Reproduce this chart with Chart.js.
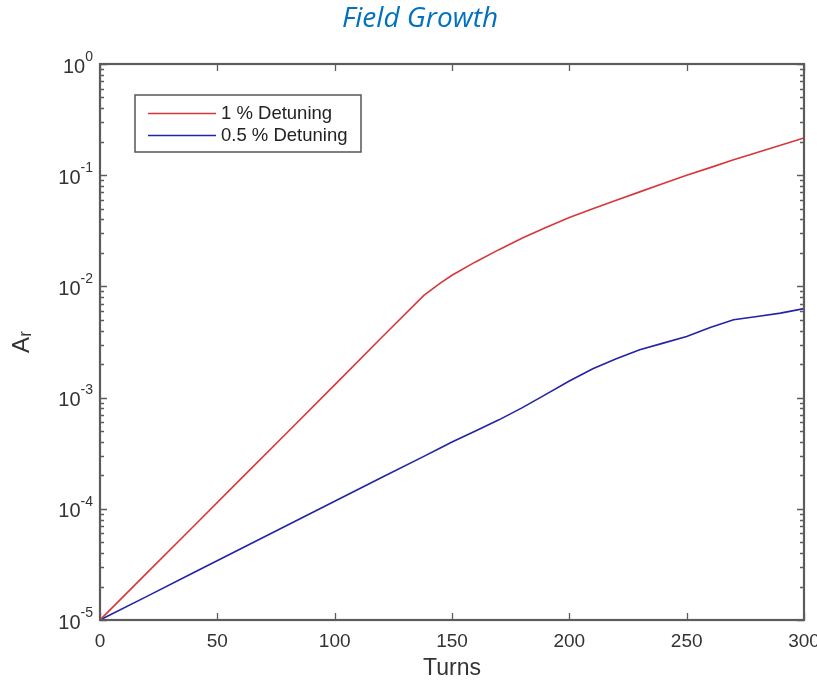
<!DOCTYPE html>
<html>
<head>
<meta charset="utf-8">
<script src="https://cdn.jsdelivr.net/npm/chart.js@4/dist/chart.umd.min.js"></script>
<style>
  html, body { margin: 0; padding: 0; background: #ffffff; }
  #wrap { width: 817px; height: 683px; }
</style>
</head>
<body>
<div id="wrap"><canvas id="c" width="817" height="683"></canvas></div>
<script>
// ---- data ----
const turns = [0, 20, 40, 60, 80, 100, 120, 138, 145, 150, 160, 170, 180, 190, 200, 210, 220, 230, 240, 250, 260, 270, 280, 290, 300];
const detuning1 = [1.0e-5, 2.65e-5, 7.0e-5, 1.86e-4, 4.9e-4, 1.30e-3, 3.47e-3, 8.3e-3, 1.07e-2, 1.26e-2, 1.66e-2, 2.14e-2, 2.72e-2, 3.39e-2, 4.17e-2, 5.0e-2, 5.96e-2, 7.08e-2, 8.41e-2, 0.100, 0.117, 0.138, 0.160, 0.186, 0.216];
const detuning05 = [1.0e-5, 1.63e-5, 2.67e-5, 4.37e-5, 7.14e-5, 1.17e-4, 1.91e-4, 2.96e-4, 3.52e-4, 3.98e-4, 5.01e-4, 6.31e-4, 8.13e-4, 1.07e-3, 1.41e-3, 1.82e-3, 2.24e-3, 2.69e-3, 3.09e-3, 3.55e-3, 4.27e-3, 5.01e-3, 5.37e-3, 5.75e-3, 6.31e-3];
const seriesLabels = ['1 % Detuning', '0.5 % Detuning'];
const xTickValues = [0, 50, 100, 150, 200, 250, 300];
const yTickValues = [1e-5, 1e-4, 1e-3, 1e-2, 1e-1, 1];
const yTickExponents = ['-5', '-4', '-3', '-2', '-1', '0'];

const AXIS_COLOR = '#5c5c5c';
const TEXT_COLOR = '#333333';
const FONT = "'Liberation Sans', Arial, sans-serif";

// Box, inside ticks (major + log minor) drawn through the scales
const boxPlugin = {
  id: 'matlabBox',
  afterDatasetsDraw(chart) {
    const ctx = chart.ctx;
    const a = chart.chartArea;
    const xs = chart.scales.x, ys = chart.scales.y;
    ctx.save();
    ctx.strokeStyle = AXIS_COLOR;
    ctx.lineWidth = 1.3;
    xTickValues.forEach(v => {
      const px = Math.round(xs.getPixelForValue(v)) + 0.5;
      ctx.beginPath();
      ctx.moveTo(px, a.bottom); ctx.lineTo(px, a.bottom - 7);
      ctx.moveTo(px, a.top); ctx.lineTo(px, a.top + 7);
      ctx.stroke();
    });
    for (let d = 0; d < yTickValues.length; d++) {
      const dec = yTickValues[d];
      const py = Math.round(ys.getPixelForValue(dec)) + 0.5;
      ctx.beginPath();
      ctx.moveTo(a.left, py); ctx.lineTo(a.left + 7, py);
      ctx.moveTo(a.right, py); ctx.lineTo(a.right - 7, py);
      ctx.stroke();
      if (d < yTickValues.length - 1) {
        for (let m = 2; m <= 9; m++) {
          const pm = Math.round(ys.getPixelForValue(dec * m)) + 0.5;
          ctx.beginPath();
          ctx.moveTo(a.left, pm); ctx.lineTo(a.left + 4, pm);
          ctx.moveTo(a.right, pm); ctx.lineTo(a.right - 4, pm);
          ctx.stroke();
        }
      }
    }
    ctx.lineWidth = 2.2;
    ctx.strokeRect(a.left, a.top, a.right - a.left, a.bottom - a.top);

    // y tick labels: "10" with a raised exponent, placed with the y scale
    ctx.fillStyle = TEXT_COLOR;
    ctx.textBaseline = 'middle';
    ctx.textAlign = 'right';
    yTickValues.forEach((v, i) => {
      const py = ys.getPixelForValue(v);
      const rightEdge = a.left - 7;
      ctx.font = '14px ' + FONT;
      const ew = ctx.measureText(yTickExponents[i]).width;
      ctx.fillText(yTickExponents[i], rightEdge, py - 7);
      ctx.font = '20px ' + FONT;
      ctx.fillText('10', rightEdge - ew, py + 3);
    });
    ctx.restore();
  }
};

// Legend drawn inside the axes, MATLAB style
const insideLegend = {
  id: 'insideLegend',
  afterDraw(chart) {
    const ctx = chart.ctx;
    const a = chart.chartArea;
    const bx = a.left + 35, by = a.top + 31, bw = 226, bh = 57;
    ctx.save();
    ctx.fillStyle = '#ffffff';
    ctx.fillRect(bx, by, bw, bh);
    ctx.strokeStyle = '#555555';
    ctx.lineWidth = 1.5;
    ctx.strokeRect(bx, by, bw, bh);
    ctx.font = '18.5px ' + FONT;
    ctx.textBaseline = 'middle';
    ctx.textAlign = 'left';
    chart.data.datasets.forEach((ds, i) => {
      const y = by + 18 + i * 22;
      ctx.strokeStyle = ds.borderColor;
      ctx.lineWidth = 1.5;
      ctx.beginPath();
      ctx.moveTo(bx + 13, y + 0.5); ctx.lineTo(bx + 81, y + 0.5);
      ctx.stroke();
      ctx.fillStyle = '#222222';
      ctx.fillText(ds.label, bx + 86, y + 1);
    });
    ctx.restore();
  }
};

new Chart(document.getElementById('c'), {
  type: 'line',
  data: {
    datasets: [
      { label: seriesLabels[0], data: turns.map((t, i) => ({ x: t, y: detuning1[i] })),
        borderColor: '#d8363a', borderWidth: 1.6, pointRadius: 0, tension: 0, fill: false },
      { label: seriesLabels[1], data: turns.map((t, i) => ({ x: t, y: detuning05[i] })),
        borderColor: '#2323a6', borderWidth: 1.6, pointRadius: 0, tension: 0, fill: false }
    ]
  },
  options: {
    responsive: false,
    animation: false,
    devicePixelRatio: 1,
    layout: { padding: { left: 36, right: 13, top: 0, bottom: 0 } },
    plugins: {
      legend: { display: false },
      tooltip: { enabled: false },
      title: {
        display: true,
        text: 'Field Growth',
        color: '#0070c0',
        font: { family: "'Open Sans', sans-serif", size: 28, style: 'italic', weight: 'normal', lineHeight: 1.2 },
        padding: { top: 2.2, bottom: 28.2 }
      }
    },
    scales: {
      x: {
        type: 'linear',
        min: 0, max: 300,
        grid: { display: false, drawTicks: false },
        border: { display: false },
        afterBuildTicks: s => { s.ticks = xTickValues.map(v => ({ value: v })); },
        ticks: { color: TEXT_COLOR, font: { family: FONT, size: 19 }, padding: 10, maxRotation: 0, autoSkip: false },
        title: { display: true, text: 'Turns', color: TEXT_COLOR, font: { family: FONT, size: 23 }, padding: { top: 0, bottom: 1 } },
        afterFit: s => { s.height = 63; s.paddingLeft = 0; s.paddingRight = 0; }
      },
      y: {
        type: 'logarithmic',
        min: 1e-5, max: 1,
        grid: { display: false, drawTicks: false },
        border: { display: false },
        afterBuildTicks: s => { s.ticks = yTickValues.map(v => ({ value: v })); },
        ticks: { display: false },
        title: { display: true, text: 'A\u1D63', color: TEXT_COLOR, font: { family: FONT, size: 24 }, padding: { top: -28, bottom: 0 } },
        afterFit: s => { s.width = 64; s.paddingTop = 0; s.paddingBottom = 0; }
      }
    }
  },
  plugins: [boxPlugin, insideLegend]
});
</script>
</body>
</html>
